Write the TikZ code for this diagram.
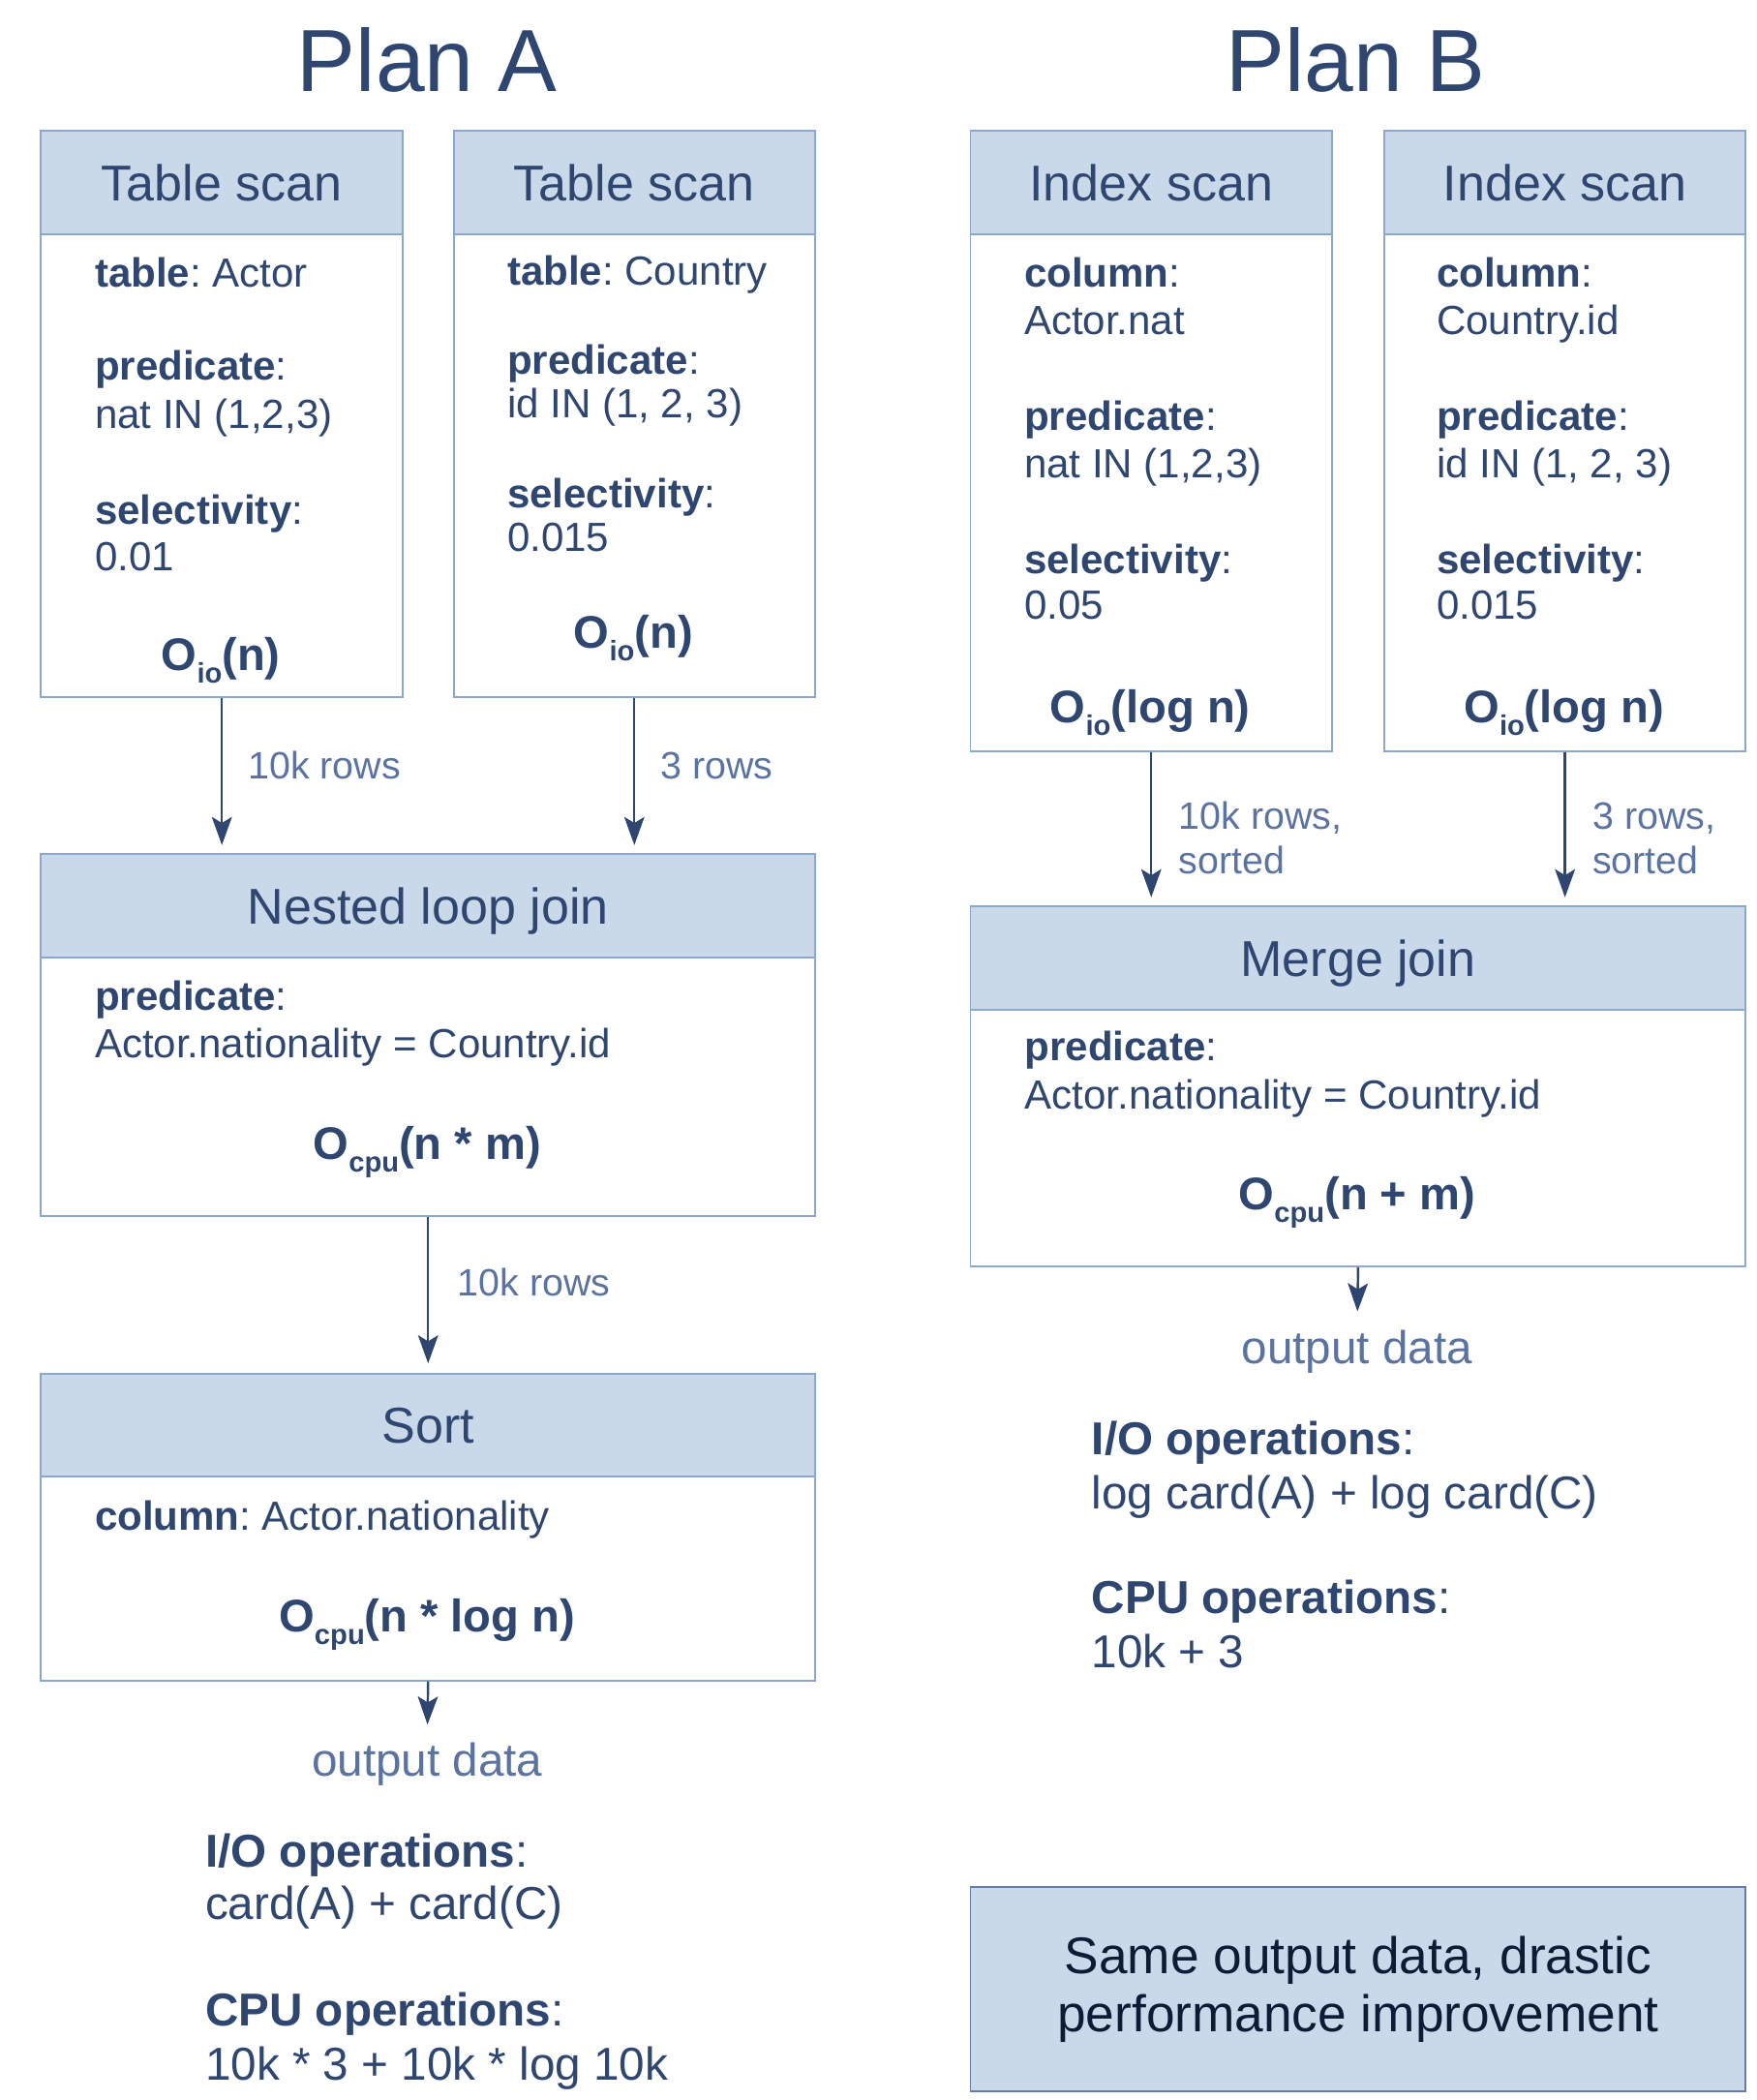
\documentclass[tikz,border=0pt]{standalone}
\usepackage{fontspec}
\setmainfont{Liberation Sans}
\usetikzlibrary{arrows.meta}
\definecolor{ink}{HTML}{2E4670}
\definecolor{soft}{HTML}{5A73A0}
\definecolor{band}{HTML}{C9D9EA}
\definecolor{rim}{HTML}{8CA7CD}
\definecolor{rimdark}{HTML}{687DA5}
\definecolor{deep}{HTML}{0F1A35}
\newcommand{\cost}[2]{O\raisebox{-5.3pt}{\fontsize{12}{12}\selectfont #1}(#2)}
\frenchspacing

\begin{document}
\begin{tikzpicture}
	[x=0.2mm, y=-0.2mm,
	plantitle/.style={font=\fontsize{37.5}{40}\selectfont, text=ink, anchor=base, inner sep=0pt},
	opbox/.style={draw=rim, line width=0.8pt, anchor=north west, inner sep=0pt, minimum width=54mm},
	ophead/.style={draw=rim, fill=band, line width=0.8pt, anchor=north west, minimum width=54mm, minimum height=15.4mm, text depth=0pt, text=ink, font=\fontsize{21.4}{24}\selectfont},
	txt/.style={font=\fontsize{17.3}{20}\selectfont, text=ink, anchor=base west, inner sep=0pt},
	bigo/.style={font=\fontsize{19.4}{22}\selectfont\bfseries, text=ink, anchor=base, inner sep=0pt},
	lbl/.style={font=\fontsize{16.2}{18.8}\selectfont, text=soft, inner sep=0pt, align=left},
	outtxt/.style={font=\fontsize{19.6}{22}\selectfont, text=soft, anchor=base, inner sep=0pt},
	total/.style={font=\fontsize{19.6}{22}\selectfont, text=ink, anchor=base west, inner sep=0pt},
	flow/.style={draw=ink, line width=1pt, -{Stealth[length=4.2mm,width=3mm,inset=0.9mm]}, shorten >=1.2mm}]

	\useasboundingbox (0,0) rectangle (1312,1568);

	\node[plantitle] (planA) at (319,68) {Plan A};
	\node[plantitle] (planB) at (1012.5,68) {Plan B};

	% plan A
	\node[opbox, minimum height=84.6mm] (ts1) at (30,97) {};
	\node[ophead] (ts1h) at (30,97) {Table scan};
	\node[txt] (ts1a) at (70.5,214) {\textbf{table}: Actor};
	\node[txt] (ts1b) at (70.5,284) {\textbf{predicate}:};
	\node[txt] (ts1c) at (70.5,320) {nat IN (1,2,3)};
	\node[txt] (ts1d) at (70.5,391.5) {\textbf{selectivity}:};
	\node[txt] (ts1e) at (70.5,426.5) {0.01};
	\node[bigo] (ts1o) at (165,500.5) {\cost{io}{n}};

	\node[opbox, minimum height=84.6mm] (ts2) at (338,97) {};
	\node[ophead] (ts2h) at (338,97) {Table scan};
	\node[txt] (ts2a) at (378.5,213) {\textbf{table}: Country};
	\node[txt] (ts2b) at (378.5,279.5) {\textbf{predicate}:};
	\node[txt] (ts2c) at (378.5,312) {id IN (1, 2, 3)};
	\node[txt] (ts2d) at (378.5,379) {\textbf{selectivity}:};
	\node[txt] (ts2e) at (378.5,412) {0.015};
	\node[bigo] (ts2o) at (473,484) {\cost{io}{n}};

	\node[opbox, minimum width=115.6mm, minimum height=54mm] (nlj) at (30,637) {};
	\node[ophead, minimum width=115.6mm] (nljh) at (30,637) {Nested loop join};
	\node[txt] (nlja) at (70.5,754) {\textbf{predicate}:};
	\node[txt] (nljb) at (70.5,789.5) {Actor.nationality = Country.id};
	\node[bigo] (nljo) at (319,865.5) {\cost{cpu}{n * m}};

	\node[opbox, minimum width=115.6mm, minimum height=45.8mm] (sort) at (30,1025) {};
	\node[ophead, minimum width=115.6mm] (sorth) at (30,1025) {Sort};
	\node[txt] (sorta) at (70.5,1142.5) {\textbf{column}: Actor.nationality};
	\node[bigo] (sorto) at (319,1218.5) {\cost{cpu}{n * log n}};

	\node[outtxt] (outA) at (319,1326) {output data};
	\node[total] (ioA) at (153,1394) {\textbf{I/O operations}:};
	\node[total] (ioAv) at (153,1433) {card(A) + card(C)};
	\node[total] (cpuA) at (153,1513) {\textbf{CPU operations}:};
	\node[total] (cpuAv) at (153,1553) {10k * 3 + 10k * log 10k};

	\draw[flow] (ts1.south) -- (ts1.south |- nlj.north);
	\draw[flow] (ts2.south) -- (ts2.south |- nlj.north);
	\draw[flow, shorten >=1.4mm] (nlj.south) -- (sort.north);
	\draw[flow, shorten >=2.6mm] (sort.south) -- (outA.north);
	\node[lbl, anchor=base west] (ts1r) at (185,581.5) {10k rows};
	\node[lbl, anchor=base west] (ts2r) at (493,581.5) {3 rows};
	\node[lbl, anchor=base west] (nljr) at (341.5,967.5) {10k rows};

	% plan B
	\node[opbox, minimum height=92.6mm] (is1) at (724,97) {};
	\node[ophead] (is1h) at (724,97) {Index scan};
	\node[txt] (is1a) at (764.5,214.5) {\textbf{column}:};
	\node[txt] (is1b) at (764.5,250) {Actor.nat};
	\node[txt] (is1c) at (764.5,321) {\textbf{predicate}:};
	\node[txt] (is1d) at (764.5,357) {nat IN (1,2,3)};
	\node[txt] (is1e) at (764.5,428) {\textbf{selectivity}:};
	\node[txt] (is1f) at (764.5,462) {0.05};
	\node[bigo] (is1o) at (859,539.5) {\cost{io}{log n}};

	\node[opbox, minimum height=92.6mm] (is2) at (1033,97) {};
	\node[ophead] (is2h) at (1033,97) {Index scan};
	\node[txt] (is2a) at (1072.5,214.5) {\textbf{column}:};
	\node[txt] (is2b) at (1072.5,250) {Country.id};
	\node[txt] (is2c) at (1072.5,321) {\textbf{predicate}:};
	\node[txt] (is2d) at (1072.5,357) {id IN (1, 2, 3)};
	\node[txt] (is2e) at (1072.5,428) {\textbf{selectivity}:};
	\node[txt] (is2f) at (1072.5,462) {0.015};
	\node[bigo] (is2o) at (1168,539.5) {\cost{io}{log n}};

	\node[opbox, minimum width=115.8mm, minimum height=53.8mm] (mj) at (724,676) {};
	\node[ophead, minimum width=115.8mm] (mjh) at (724,676) {Merge join};
	\node[txt] (mja) at (765,792) {\textbf{predicate}:};
	\node[txt] (mjb) at (765,828) {Actor.nationality = Country.id};
	\node[bigo] (mjo) at (1013.5,903) {\cost{cpu}{n + m}};

	\node[outtxt] (outB) at (1013.5,1018) {output data};
	\node[total] (ioB) at (815,1086.5) {\textbf{I/O operations}:};
	\node[total] (ioBv) at (815,1127) {log card(A) + log card(C)};
	\node[total] (cpuB) at (815,1204.5) {\textbf{CPU operations}:};
	\node[total] (cpuBv) at (815,1245) {10k + 3};

	\draw[flow] (is1.south) -- (is1.south |- mj.north);
	\draw[flow] (is2.south) -- (is2.south |- mj.north);
	\draw[flow, shorten >=2.7mm] (mj.south) -- (outB.north);
	\node[lbl, anchor=south west] (is1r) at (880,653) {10k rows,\\sorted};
	\node[lbl, anchor=south west] (is2r) at (1189,653) {3 rows,\\sorted};

	\node[draw=rimdark, fill=band, line width=0.8pt, anchor=north west, minimum width=115.8mm, minimum height=30.6mm, align=center, text=deep, font=\fontsize{21.9}{24.8}\selectfont] (verdict) at (724,1408) {Same output data, drastic\\performance improvement};

\end{tikzpicture}
\end{document}
